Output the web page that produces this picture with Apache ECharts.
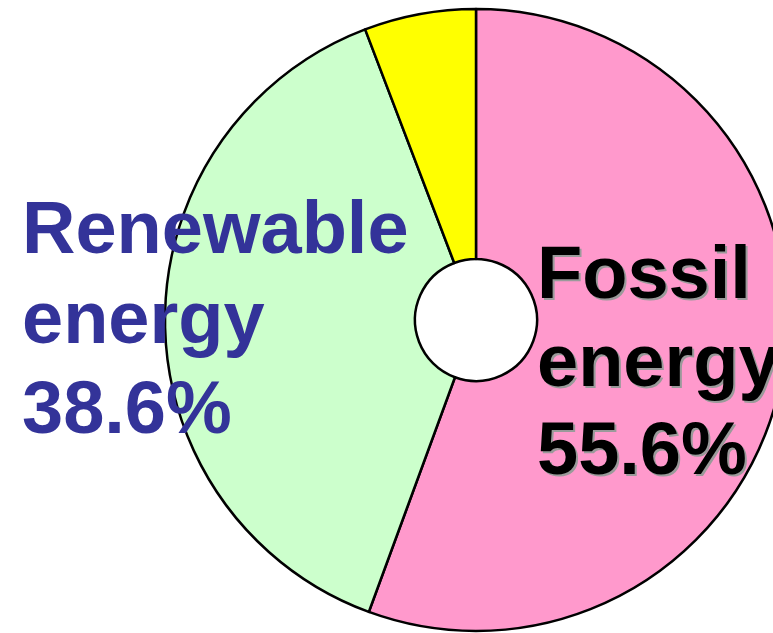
<!DOCTYPE html>
<html>
<head>
<meta charset="utf-8">
<script src="https://cdn.jsdelivr.net/npm/echarts@6/dist/echarts.min.js"></script>
<style>
html,body{margin:0;padding:0;background:#fff;}
#chart{width:773px;height:633px;}
</style>
</head>
<body>
<div id="chart"></div>
<script>
// Data
const categories = ['Fossil energy', 'Renewable energy', 'Other'];
const shares = [55.6, 38.6, 5.8];
const sliceColors = ['#FF99CC', '#CCFFCC', '#FFFF00'];

const chart = echarts.init(document.getElementById('chart'));

const fontFamily = '"Liberation Sans", Arial, sans-serif';
function labelText(i) {
  return categories[i].replace(' ', '\n') + '\n' + shares[i].toFixed(1) + '%';
}
function textEl(i, x, y, color, lh) {
  return {
    type: 'text',
    x: x, y: y,
    silent: true,
    style: {
      text: labelText(i),
      fontFamily: fontFamily,
      fontWeight: 'bold',
      fontSize: 74,
      lineHeight: lh,
      fill: color,
      align: 'left',
      verticalAlign: 'top'
    }
  };
}

chart.setOption({
  animation: false,
  series: [{
    type: 'pie',
    center: [476, 320],
    radius: [61, 311],
    startAngle: 90,
    clockwise: true,
    silent: true,
    itemStyle: { borderColor: '#000', borderWidth: 2.5 },
    label: { show: false },
    labelLine: { show: false },
    data: categories.map((name, i) => ({
      name: name,
      value: shares[i],
      itemStyle: { color: sliceColors[i] }
    }))
  }],
  graphic: [
    Object.assign(textEl(0, 539, 236, '#9a9a9a', 88), { z: 10 }),
    Object.assign(textEl(0, 537, 234, '#000000', 88), { z: 11 }),
    Object.assign(textEl(1, 22, 188, '#333399', 90), { z: 11 })
  ]
});
</script>
</body>
</html>
